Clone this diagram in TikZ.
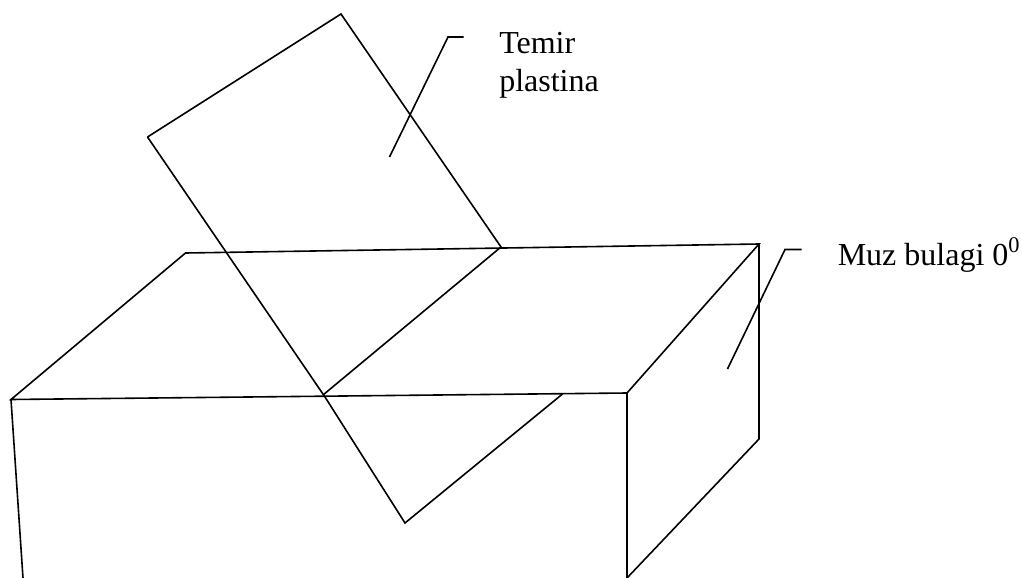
\documentclass[tikz,border=0pt]{standalone}
\usepackage{fontspec}
\setmainfont{Liberation Serif}
\tikzset{edge/.style={draw=black,line width=1.2pt,line join=miter},
lbl/.style={font=\fontsize{24}{29}\selectfont,anchor=base west,align=left,inner sep=0pt,text=black}}
\begin{document}
\begin{tikzpicture}[x=0.75pt,y=-0.75pt]
\useasboundingbox (0,0) rectangle (1022,578);
% all coordinates in reference pixels
\coordinate (plA) at (341,14);
\coordinate (plB) at (147.5,137);
\coordinate (plC) at (501,247);
\coordinate (plD) at (405,523);
\coordinate (plE) at (562.5,394);
\coordinate (tA) at (185.5,253);
\coordinate (tB) at (759,244);
\coordinate (tC) at (627,393);
\coordinate (tD) at (11,399.5);
\coordinate (tM) at (323,395);
\coordinate (plK) at (325,397);
\coordinate (bA) at (23,578);
\coordinate (bB) at (627,578);
\coordinate (bC) at (759,439);
\draw[edge] (plB) -- (plA) -- (plC) -- (tM);
\draw[edge] (plB) -- (plK) -- (plD) -- (plE);
\draw[edge] (tD) -- (tA) -- (tB) -- (tC) -- cycle;
\draw[edge] (tD) -- (bA);
\draw[edge] (tC) -- (bB) -- (bC) -- (tB);
\coordinate (l1a) at (389.5,157);
\coordinate (l1b) at (448,37);
\coordinate (l1c) at (463.5,37);
\draw[edge] (l1a) -- (l1b) -- (l1c);
\coordinate (l2a) at (727.5,369);
\coordinate (l2b) at (785,249.5);
\coordinate (l2c) at (801.5,249.5);
\draw[edge] (l2a) -- (l2b) -- (l2c);
\node[lbl] (t1) at (499,53) {Temir};
\node[lbl] (t2) at (499,91) {plastina};
\node[lbl] (t3) at (837.5,265) {Muz bulagi 0\textsuperscript{0}};
\end{tikzpicture}
\end{document}
